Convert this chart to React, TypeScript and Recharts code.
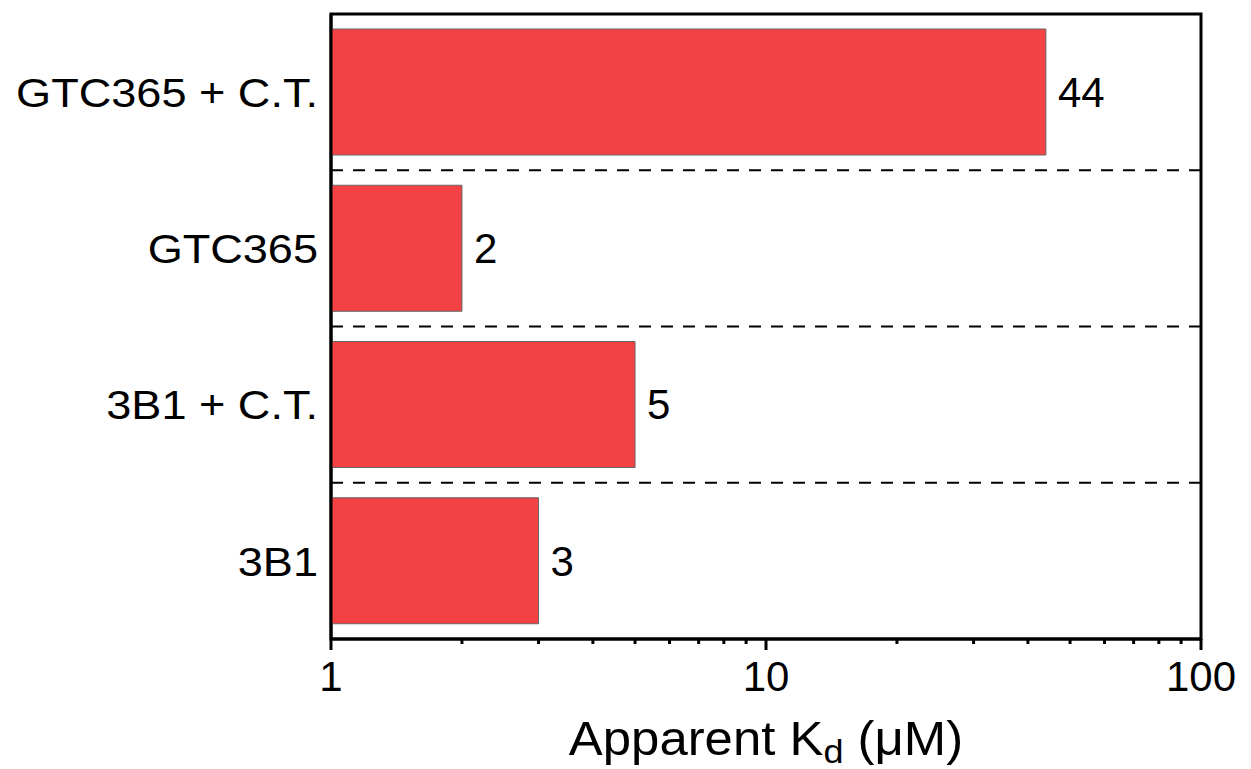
import React from 'react';
import { BarChart, Bar, XAxis, YAxis, CartesianGrid, ReferenceArea, LabelList } from 'recharts';

const categories = ['GTC365 + C.T.', 'GTC365', '3B1 + C.T.', '3B1'];
const kdValues = [44, 2, 5, 3];
const majorTicks = [1, 10, 100];
const minorTicks = [2, 3, 4, 5, 6, 7, 8, 9, 20, 30, 40, 50, 60, 70, 80, 90];
const separators = [1, 2, 3];

const data = categories.map((name, i) => ({ name, kd: kdValues[i] }));
const allTicks = [...majorTicks, ...minorTicks].sort((a, b) => a - b);

const FONT = "Arial, 'Liberation Sans', sans-serif";

const XTick = (props: any) => {
  const { x, y, payload } = props;
  const v = payload.value;
  const major = majorTicks.includes(v);
  return (
    <g>
      <line x1={x} x2={x} y1={y} y2={y + (major ? 11 : 5)} stroke="#000" strokeWidth={3} />
      {major && (
        <text x={x} y={y + 52} textAnchor="middle" fontSize={42} fontFamily={FONT} fill="#000">
          {v}
        </text>
      )}
    </g>
  );
};

const YTick = (props: any) => {
  const { x, y, payload } = props;
  return (
    <g transform={`translate(${x},${y}) scale(1.1,1)`}>
      <text x={0} y={0} dy="0.36em" textAnchor="end" fontSize={41} fontFamily={FONT} fill="#000">
        {payload.value}
      </text>
    </g>
  );
};

const AxisTitle = (props: any) => {
  const { viewBox } = props;
  const cx = viewBox.x + viewBox.width / 2;
  const by = viewBox.y + 116;
  return (
    <g transform={`translate(${cx},${by}) scale(1.06,1)`}>
      <text x={0} y={0} textAnchor="middle" fontSize={48} fontFamily={FONT} fill="#000">
        Apparent K
        <tspan dy={8} fontSize={34}>d</tspan>
        <tspan dy={-8}> (μM)</tspan>
      </text>
    </g>
  );
};

const sepGenerator = (props: any) => {
  const off = props.offset;
  return separators.map((k) => off.top + (off.height * k) / categories.length);
};

export default function App() {
  return (
    <div style={{ position: 'absolute', left: 0, top: 0, width: 1251, height: 769, background: '#fff' }}>
      <BarChart
        width={1251}
        height={769}
        data={data}
        layout="vertical"
        margin={{ top: 14, right: 50, bottom: 0, left: 0 }}
        barCategoryGap="9.6%"
      >
        <CartesianGrid
          vertical={false}
          horizontal
          horizontalCoordinatesGenerator={sepGenerator}
          stroke="#000"
          strokeWidth={2}
          strokeDasharray="12 10"
        />
        <XAxis
          type="number"
          dataKey="kd"
          scale="log"
          domain={[1, 100]}
          allowDataOverflow
          ticks={allTicks}
          interval={0}
          height={130}
          tickLine={false}
          tickSize={0}
          tickMargin={0}
          axisLine={{ stroke: '#000', strokeWidth: 3 }}
          tick={<XTick />}
          label={<AxisTitle />}
        />
        <YAxis
          type="category"
          dataKey="name"
          width={331}
          tickLine={false}
          tickSize={0}
          tickMargin={13}
          axisLine={{ stroke: '#000', strokeWidth: 3 }}
          tick={<YTick />}
          interval={0}
        />
        <Bar dataKey="kd" fill="#F44244" stroke="#666" strokeWidth={1} isAnimationActive={false}>
          <LabelList dataKey="kd" position="right" offset={12} fontSize={42} fontFamily={FONT} fill="#000" />
        </Bar>
        <ReferenceArea
          x1={1}
          x2={100}
          fill="none"
          fillOpacity={0}
          stroke="#000"
          strokeWidth={3}
          ifOverflow="visible"
        />
      </BarChart>
    </div>
  );
}
